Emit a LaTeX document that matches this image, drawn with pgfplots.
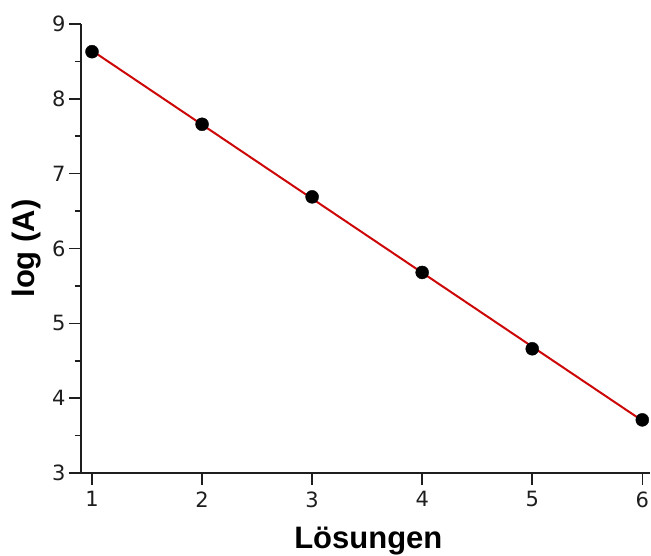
\documentclass[border=0pt]{standalone}
\usepackage{fontspec}
\setmainfont{DejaVu Sans}
\newfontfamily\labfont{Liberation Sans}
\usepackage{pgfplots}
\pgfplotsset{compat=1.18}
\definecolor{fitred}{RGB}{204,8,8}
\definecolor{axgray}{RGB}{30,30,30}
\begin{document}
\begin{tikzpicture}
\begin{axis}[
  scale only axis,
  width=569pt, height=449pt,
  xmin=0.9, xmax=6.07,
  ymin=3, ymax=9,
  axis x line*=bottom, axis y line*=left,
  axis line style={line width=1.6pt, axgray},
  xtick={1,2,3,4,5,6},
  ytick={3,4,5,6,7,8,9},
  minor y tick num=1,
  xtick align=outside, ytick align=outside,
  major tick length=12pt,
  minor tick length=6pt,
  tick style={line width=1.6pt, axgray},
  every tick label/.append style={font=\fontsize{21}{24}\selectfont, text=axgray},
  xticklabel style={yshift=-3pt},
  /pgf/number format/assume math mode=true,
  xlabel={Lösungen},
  ylabel={log (A)},
  xlabel style={font=\labfont\bfseries\fontsize{31}{36}\selectfont, at={(axis description cs:0.505,-0.168)}, anchor=base},
  ylabel style={font=\labfont\bfseries\fontsize{31}{36}\selectfont, at={(axis description cs:-0.081,0.5)}, anchor=base, rotate=0},
  clip=false,
]
\addplot[fitred, line width=2pt] coordinates {(1,8.644) (6,3.699)};
\addplot[only marks, mark=*, mark size=6.5pt, black] coordinates {
(1,8.63) (2,7.66) (3,6.69) (4,5.68) (5,4.66) (6,3.71)};
\end{axis}
\pgfresetboundingbox
\path (-81pt,-83pt) rectangle (570pt,473pt);
\end{tikzpicture}
\end{document}
